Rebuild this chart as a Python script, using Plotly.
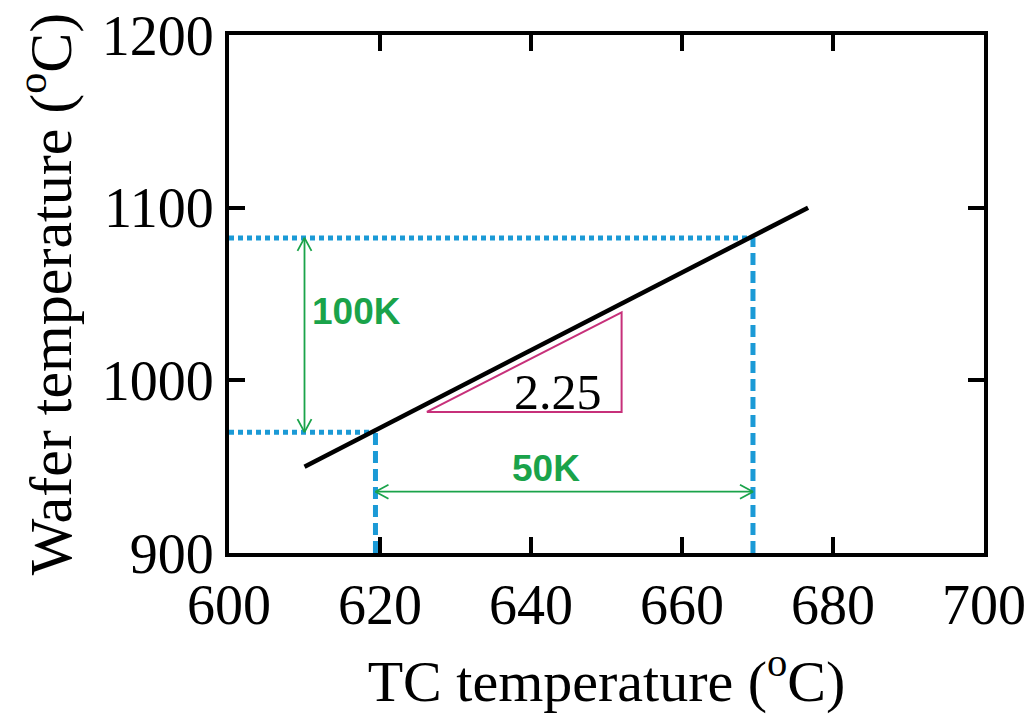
import plotly.graph_objects as go

# Data
fit_x = [610.0, 676.7]
fit_y = [950.0, 1100.0]
tc_low, tc_high = 619.4, 669.4
wafer_low, wafer_high = 970.0, 1082.5
x_range = [600, 700]
y_range = [900, 1200]
x_ticks = [600, 620, 640, 660, 680, 700]
y_ticks = [900, 1000, 1100, 1200]
tri_x = [626.2, 652.0, 652.0, 626.2]
tri_y = [981.7, 1039.3, 981.7, 981.7]
slope_label = "2.25"
dy_label = "100K"
dx_label = "50K"
arrow_v_x = 610.0
arrow_h_y = 935.5

W, H = 1027, 720
ML, MR, MT, MB = 229, 43, 35, 167
px_x = (x_range[1] - x_range[0]) / (W - ML - MR)
px_y = (y_range[1] - y_range[0]) / (H - MT - MB)

BLUE = "#1b9ad6"
GREEN = "#1aa34a"
MAG = "#c7307a"
SERIF = "Liberation Serif, Times New Roman, serif"

fig = go.Figure()

# Guide lines
dot = "5px,4px"
dash = "12px,6px"
fig.add_trace(go.Scatter(x=[x_range[0], tc_low], y=[wafer_low, wafer_low], mode="lines",
                         line=dict(color=BLUE, width=5, dash=dot), hoverinfo="skip"))
fig.add_trace(go.Scatter(x=[x_range[0], tc_high], y=[wafer_high, wafer_high], mode="lines",
                         line=dict(color=BLUE, width=5, dash=dot), hoverinfo="skip"))
fig.add_trace(go.Scatter(x=[tc_low, tc_low], y=[y_range[0], wafer_low], mode="lines",
                         line=dict(color=BLUE, width=5, dash=dash), hoverinfo="skip"))
fig.add_trace(go.Scatter(x=[tc_high, tc_high], y=[y_range[0], wafer_high], mode="lines",
                         line=dict(color=BLUE, width=5, dash=dash), hoverinfo="skip"))

# Fit line
fig.add_trace(go.Scatter(x=fit_x, y=fit_y, mode="lines", line=dict(color="black", width=4.5),
                         hoverinfo="skip"))

# Slope triangle
fig.add_trace(go.Scatter(x=tri_x, y=tri_y, mode="lines", line=dict(color=MAG, width=2),
                         hoverinfo="skip"))

# Arrows (double-headed, open chevrons)
hx, hy = 7 * px_x, 13 * px_y  # vertical arrow heads
ax_ = [arrow_v_x, arrow_v_x, None,
       arrow_v_x - hx, arrow_v_x, arrow_v_x + hx, None,
       arrow_v_x - hx, arrow_v_x, arrow_v_x + hx]
ay_ = [wafer_low, wafer_high, None,
       wafer_high - hy, wafer_high, wafer_high - hy, None,
       wafer_low + hy, wafer_low, wafer_low + hy]
fig.add_trace(go.Scatter(x=ax_, y=ay_, mode="lines", line=dict(color=GREEN, width=1.8),
                         hoverinfo="skip"))
hx2, hy2 = 13 * px_x, 7 * px_y
bx_ = [tc_low, tc_high, None,
       tc_low + hx2, tc_low, tc_low + hx2, None,
       tc_high - hx2, tc_high, tc_high - hx2]
by_ = [arrow_h_y, arrow_h_y, None,
       arrow_h_y + hy2, arrow_h_y, arrow_h_y - hy2, None,
       arrow_h_y + hy2, arrow_h_y, arrow_h_y - hy2]
fig.add_trace(go.Scatter(x=bx_, y=by_, mode="lines", line=dict(color=GREEN, width=1.8),
                         hoverinfo="skip"))

# Labels
fig.add_annotation(x=616.9, y=1040, text=f"<b>{dy_label}</b>", showarrow=False,
                   font=dict(family="Liberation Sans, Arial, sans-serif", size=37, color=GREEN))
fig.add_annotation(x=642.0, y=949, text=f"<b>{dx_label}</b>", showarrow=False,
                   font=dict(family="Liberation Sans, Arial, sans-serif", size=37, color=GREEN))
fig.add_annotation(x=643.6, y=993.5, text=slope_label, showarrow=False,
                   font=dict(family=SERIF, size=50, color="black"))

axis_common = dict(showline=True, linecolor="black", linewidth=4, mirror="ticks",
                   ticks="inside", ticklen=16, tickwidth=4, tickcolor="black",
                   showgrid=False, zeroline=False,
                   tickfont=dict(family=SERIF, size=56, color="black"))

fig.update_layout(
    width=W, height=H,
    margin=dict(l=ML, r=MR, t=MT, b=MB, autoexpand=False),
    paper_bgcolor="white", plot_bgcolor="white",
    showlegend=False,
    xaxis=dict(range=x_range, tickvals=x_ticks, ticktext=[str(v) for v in x_ticks],
               title=dict(text="TC temperature (<sup>o</sup>C)", standoff=26,
                          font=dict(family=SERIF, size=58, color="black")),
               **axis_common),
    yaxis=dict(range=y_range, tickvals=y_ticks, ticktext=[str(v) for v in y_ticks],
               title=dict(text="Wafer temperature (<sup>o</sup>C)", standoff=12,
                          font=dict(family=SERIF, size=60, color="black")),
               **axis_common),
)

fig.write_html("out.html")
